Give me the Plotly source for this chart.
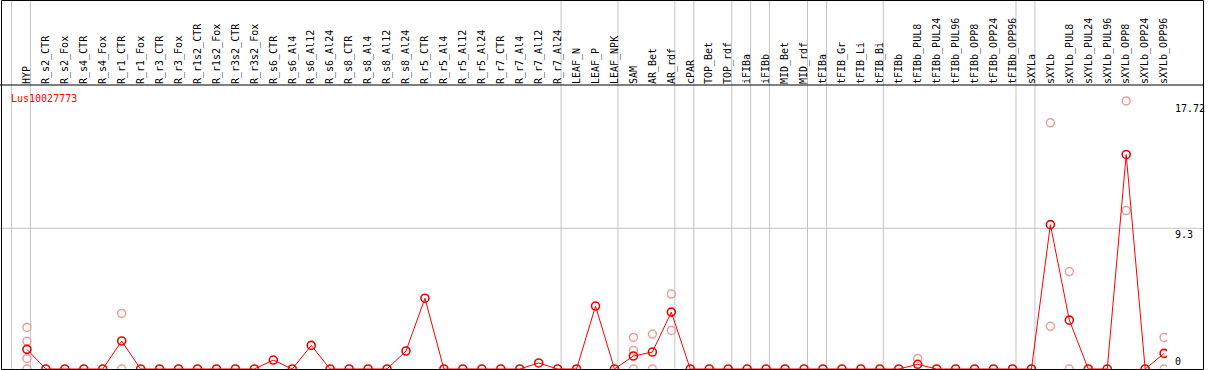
import plotly.graph_objects as go

categories = [
    "HYP", "R_s2_CTR", "R_s2_Fox", "R_s4_CTR", "R_s4_Fox", "R_r1_CTR", "R_r1_Fox",
    "R_r3_CTR", "R_r3_Fox", "R_r1s2_CTR", "R_r1s2_Fox", "R_r3s2_CTR", "R_r3s2_Fox",
    "R_s6_CTR", "R_s6_Al4", "R_s6_Al12", "R_s6_Al24", "R_s8_CTR", "R_s8_Al4",
    "R_s8_Al12", "R_s8_Al24", "R_r5_CTR", "R_r5_Al4", "R_r5_Al12", "R_r5_Al24",
    "R_r7_CTR", "R_r7_Al4", "R_r7_Al12", "R_r7_Al24", "LEAF_N", "LEAF_P", "LEAF_NPK",
    "SAM", "AR_Bet", "AR_rdf", "cPAR", "TOP_Bet", "TOP_rdf", "iFIBa", "iFIBb",
    "MID_Bet", "MID_rdf", "tFIBa", "tFIB_Gr", "tFIB_Li", "tFIB_Bi", "tFIBb",
    "tFIBb_PUL8", "tFIBb_PUL24", "tFIBb_PUL96", "tFIBb_OPP8", "tFIBb_OPP24", "tFIBb_OPP96",
    "sXYLa", "sXYLb", "sXYLb_PUL8", "sXYLb_PUL24", "sXYLb_PUL96", "sXYLb_OPP8",
    "sXYLb_OPP24", "sXYLb_OPP96",
]

mean_values = [
    1.30, 0, 0, 0, 0, 1.85, 0,
    0, 0, 0, 0, 0, 0,
    0.59, 0, 1.56, 0, 0, 0,
    0, 1.19, 4.68, 0, 0, 0,
    0, 0, 0.40, 0, 0, 4.16, 0,
    0.86, 1.12, 3.76, 0, 0, 0, 0, 0,
    0, 0, 0, 0, 0, 0, 0,
    0.31, 0, 0, 0, 0, 0,
    0, 9.54, 3.23, 0, 0, 14.18,
    0, 1.03,
]

rep_categories = [
    "HYP", "HYP", "HYP", "HYP",
    "R_r1_CTR", "R_r1_CTR",
    "SAM", "SAM", "SAM",
    "AR_Bet", "AR_Bet",
    "AR_rdf", "AR_rdf",
    "tFIBb_PUL8",
    "sXYLb", "sXYLb",
    "sXYLb_PUL8", "sXYLb_PUL8",
    "sXYLb_OPP8", "sXYLb_OPP8",
    "sXYLb_OPP96", "sXYLb_OPP96",
]
rep_values = [
    2.75, 1.83, 0.70, 0,
    3.67, 0,
    2.09, 1.23, 0,
    2.31, 0,
    4.95, 2.55,
    0.70,
    16.27, 2.82,
    6.44, 0,
    17.72, 10.47,
    2.09, 0,
]

group_sizes = [1, 28, 3, 3, 1, 2, 1, 1, 2, 1, 3, 7, 1, 7]
y_ticks = [0, 9.3, 17.72]
y_tick_text = ["0", "9.3", "17.72"]
gene = "Lus10027773"

W, H = 1209, 370
TOP = 85
PLOT_W = 1170
PLOT_H = H - TOP
px_per_cat = 19.0
first_px = 27.0
y0_px = 369.0
px_per_unit = (369.0 - 228.3) / 9.3

x_range = [-first_px / px_per_cat, (PLOT_W - first_px) / px_per_cat]
y_range = [-(H - y0_px) / px_per_unit, (y0_px - TOP) / px_per_unit]

MONO = "DejaVu Sans Mono"
GRAY = "#c4c4c4"

fig = go.Figure()
fig.add_trace(go.Scatter(
    x=rep_categories, y=rep_values, mode="markers",
    marker=dict(symbol="circle-open", size=8, color="#ee9d9d", line=dict(width=1.5)),
    showlegend=False, hoverinfo="skip", cliponaxis=True,
))
fig.add_trace(go.Scatter(
    x=categories, y=mean_values, mode="lines+markers",
    line=dict(color="#ff0000", width=1),
    marker=dict(symbol="circle-open", size=8, color="#ee0000", line=dict(width=1.6)),
    showlegend=False,
))

def px_x(p):
    return p / W

shapes = []
top_paper = (H - 0.5) / PLOT_H
boundary = -1
sep_positions = [boundary]
for g in group_sizes:
    boundary += g
    sep_positions.append(boundary)
off = 3.5 / px_per_cat
for b in sep_positions:
    shapes.append(dict(type="line", xref="x", yref="paper", x0=b + off, x1=b + off,
                       y0=-0.01, y1=top_paper, line=dict(color=GRAY, width=1), layer="below"))
shapes.append(dict(type="line", xref="paper", yref="y", x0=0, x1=px_x(W - 3),
                   y0=y_ticks[1], y1=y_ticks[1], line=dict(color=GRAY, width=1), layer="below"))
BLK = dict(color="black", width=1)
shapes.append(dict(type="line", xref="paper", yref="paper", x0=0, x1=px_x(W - 2),
                   y0=1, y1=1, line=BLK))
shapes.append(dict(type="rect", xref="paper", yref="paper", x0=px_x(1.5), x1=px_x(W - 2.5),
                   y0=0.5 / PLOT_H, y1=top_paper, line=BLK))

annotations = []
annotations.append(dict(text=gene, xref="paper", yref="paper", x=px_x(9),
                        y=(H - 98) / PLOT_H, xanchor="left", yanchor="middle",
                        showarrow=False, font=dict(family=MONO, size=10, color="#ff0000")))
anchors = ["bottom", "top", "top"]
shifts = [0, 1, 0]
for v, t, a, s in zip(y_ticks, y_tick_text, anchors, shifts):
    annotations.append(dict(text=t, xref="paper", yref="y", x=px_x(1176), y=v,
                            xanchor="left", yanchor=a, yshift=s, showarrow=False,
                            font=dict(family=MONO, size=10, color="black")))

fig.update_layout(
    width=W, height=H,
    margin=dict(l=0, r=0, t=TOP, b=0, pad=0),
    paper_bgcolor="white", plot_bgcolor="white",
    xaxis=dict(domain=[0, PLOT_W / W], range=x_range, type="category",
               categoryorder="array", categoryarray=categories,
               side="top", tickangle=-90, ticks="", showgrid=False, zeroline=False,
               showline=False, tickfont=dict(family=MONO, size=10, color="black"),
               fixedrange=True),
    yaxis=dict(range=y_range, showgrid=False, zeroline=False, showline=False,
               showticklabels=False, ticks="", fixedrange=True),
    shapes=shapes,
    annotations=annotations,
)

fig.write_html(
    "out.html",
    config={"displayModeBar": False},
    post_script="document.body.style.margin='0';document.body.style.overflow='hidden';",
)
